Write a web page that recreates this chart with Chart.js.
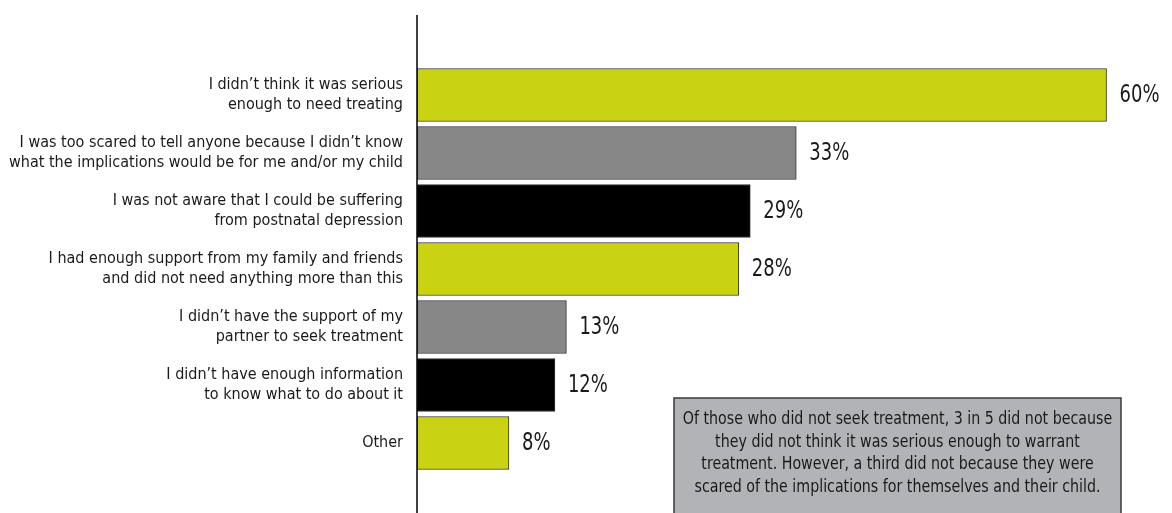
<!DOCTYPE html>
<html>
<head>
<meta charset="utf-8">
<script src="https://cdn.jsdelivr.net/npm/chart.js@4/dist/chart.umd.min.js"></script>
<style>
  body { margin: 0; background: #fff; }
  canvas { display: block; }
</style>
</head>
<body>
<canvas id="reasonsChart" width="1172" height="513"></canvas>
<script>
var reasons = [
  ["I didn\u2019t think it was serious", "enough to need treating"],
  ["I was too scared to tell anyone because I didn\u2019t know", "what the implications would be for me and/or my child"],
  ["I was not aware that I could be suffering", "from postnatal depression"],
  ["I had enough support from my family and friends", "and did not need anything more than this"],
  ["I didn\u2019t have the support of my", "partner to seek treatment"],
  ["I didn\u2019t have enough information", "to know what to do about it"],
  "Other"
];
var percents = [60, 33, 29, 28, 13, 12, 8];
var barColours = ["#c9d312", "#878787", "#000000", "#c9d312", "#878787", "#000000", "#c9d312"];
var noteLines = [
  "Of those who did not seek treatment, 3 in 5 did not because",
  "they did not think it was serious enough to warrant",
  "treatment. However, a third did not because they were",
  "scared of the implications for themselves and their child."
];

var FONT = "'Liberation Sans Narrow', 'DejaVu Sans Condensed', 'Roboto', sans-serif";

// text squeezed sideways to get a narrow look
function narrowText(ctx, text, x, y, sx) {
  ctx.save();
  ctx.translate(x, y);
  ctx.scale(sx, 1);
  ctx.fillText(text, 0, 0);
  ctx.restore();
}

// value labels at the end of each bar, plus the vertical axis line
var barExtras = {
  id: "barExtras",
  afterDatasetsDraw: function (chart) {
    var ctx = chart.ctx;
    var meta = chart.getDatasetMeta(0);
    ctx.save();
    ctx.font = "25px " + FONT;
    ctx.fillStyle = "#1a1a1a";
    ctx.textAlign = "left";
    ctx.textBaseline = "middle";
    meta.data.forEach(function (bar, i) {
      narrowText(ctx, percents[i] + "%", bar.x + 13, bar.y, 0.8);
    });
    var x0 = chart.scales.x.getPixelForValue(0);
    ctx.strokeStyle = "#000";
    ctx.lineWidth = 1.5;
    ctx.beginPath();
    ctx.moveTo(x0, 15);
    ctx.lineTo(x0, chart.height);
    ctx.stroke();
    ctx.restore();
  }
};

// grey summary box in the lower right
var noteBox = {
  id: "noteBox",
  afterDraw: function (chart) {
    var ctx = chart.ctx;
    var left = 674, top = 398, right = 1121;
    ctx.save();
    ctx.fillStyle = "#b2b3b6";
    ctx.fillRect(left, top, right - left, chart.height - top + 5);
    ctx.strokeStyle = "#3a3a3a";
    ctx.lineWidth = 1.5;
    ctx.strokeRect(left, top, right - left, chart.height - top + 5);
    ctx.fillStyle = "#1a1a1a";
    ctx.font = "17px " + FONT;
    ctx.textAlign = "center";
    ctx.textBaseline = "middle";
    noteLines.forEach(function (line, i) {
      narrowText(ctx, line, (left + right) / 2, 420 + i * 22.4, 0.93);
    });
    ctx.restore();
  }
};

new Chart(document.getElementById("reasonsChart"), {
  type: "bar",
  data: {
    labels: reasons,
    datasets: [{
      data: percents,
      backgroundColor: barColours,
      borderColor: "#333",
      borderWidth: 1,
      borderSkipped: false,
      barThickness: 53
    }]
  },
  options: {
    indexAxis: "y",
    responsive: false,
    animation: false,
    layout: { padding: { top: 66, bottom: 41, left: 0, right: 8 } },
    plugins: {
      legend: { display: false },
      tooltip: { enabled: false }
    },
    scales: {
      x: {
        display: false,
        min: 0,
        max: 65
      },
      y: {
        afterFit: function (scale) { scale.width = 417; },
        grid: { display: false, drawTicks: false },
        border: { display: false },
        ticks: {
          padding: 14,
          color: "#1a1a1a",
          font: { family: FONT, size: 16, lineHeight: 1.25 }
        }
      }
    }
  },
  plugins: [barExtras, noteBox]
});
</script>
</body>
</html>
